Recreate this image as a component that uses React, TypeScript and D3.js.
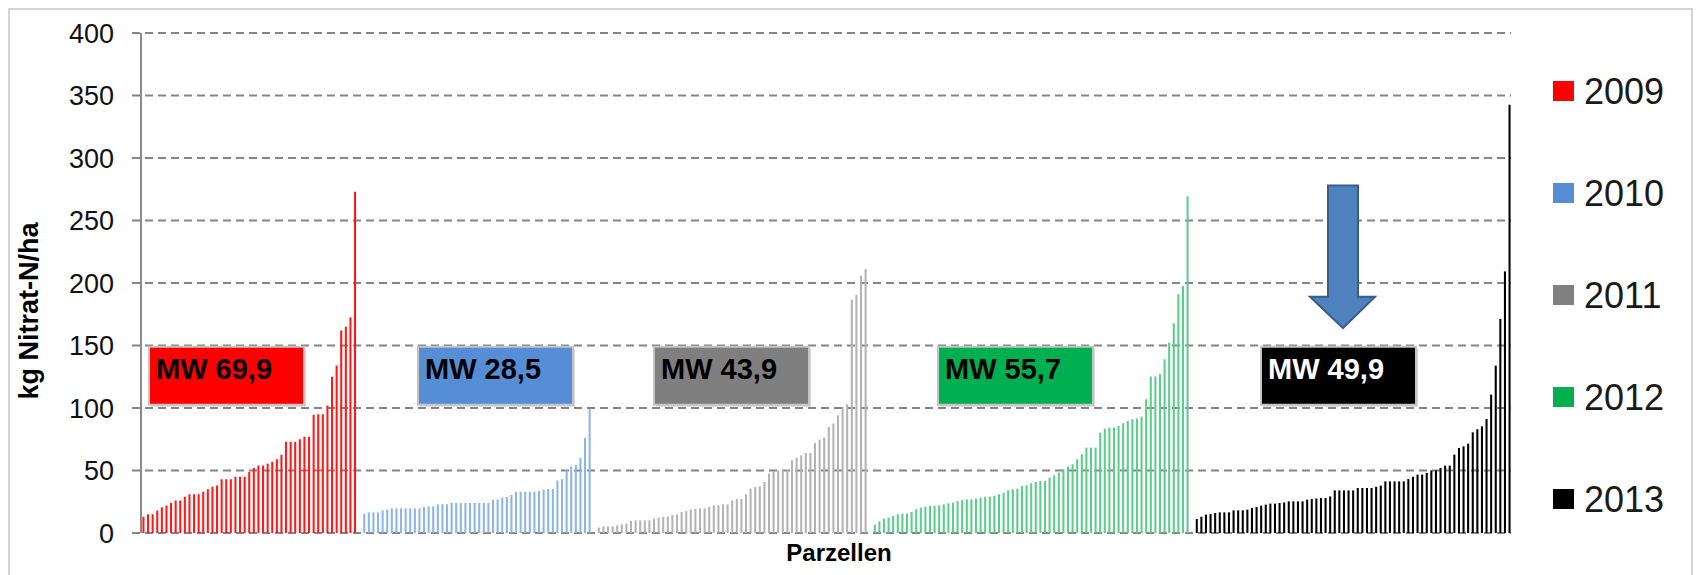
import React, { useEffect, useRef } from "react";
import * as d3 from "d3";

// Parzellen sorted by nitrate value, one list per year
const years = ["2009", "2010", "2011", "2012", "2013"];

const values2009 = [
  13, 15, 15, 18, 20.5, 22, 24, 26, 26, 29, 31, 31, 31, 33, 35, 37, 38, 43, 43,
  43, 45, 45, 45, 49, 52, 54, 54, 55.5, 57, 59, 62.6, 73, 73, 73, 75, 77, 77,
  94.6, 95, 95, 102, 125, 134, 162, 165, 172.5, 273,
];

const values2010 = [
  15.4, 16.5, 16.5, 16.5, 18, 18.6, 19.7, 19.7, 19.7, 19.7, 19.7, 19.7, 19.7,
  20.8, 21.3, 21.3, 23, 23, 23, 24, 24, 24, 24, 24, 24, 24, 24, 24, 26.7, 26.7,
  28.3, 28.8, 30.4, 33, 33, 33, 33, 33, 33.6, 34.7, 35.2, 35.2, 42, 43, 50.6,
  53.3, 54.4, 60, 76, 99.2,
];

const values2011 = [
  4.3, 5.3, 5.3, 5.3, 6.1, 6.9, 7.5, 9.6, 10.1, 10.1, 10.1, 10.1, 11.5, 12.3,
  12.8, 13.3, 14.4, 14.9, 16.8, 17.6, 18.7, 19.2, 19.7, 19.7, 20.8, 22.1, 22.1,
  22.9, 22.9, 26.1, 27.2, 27.2, 30.9, 35.5, 36.8, 37.3, 40.8, 47.5, 49.6, 50.1,
  50.7, 50.7, 58.1, 60.3, 62.1, 64, 64, 72, 74.7, 76.3, 84.8, 87.5, 94.1, 100.8,
  103, 186.6, 190.6, 205.8, 211.1,
];

const values2012 = [
  6.7, 9.3, 11.5, 12.3, 13.6, 14.9, 15.5, 15.5, 16.8, 18.9, 20.3, 21.1, 21.6,
  21.6, 22.1, 22.9, 23.7, 24.3, 25.6, 26.4, 26.9, 26.9, 27.5, 28.3, 29.1, 29.1,
  29.6, 31, 32.3, 34.2, 35, 35.5, 37.6, 38.2, 39.8, 40.8, 41.6, 41.6, 44.3, 46.2,
  48.3, 51, 53.1, 55, 59, 63, 68.3, 68.3, 68.3, 80.3, 83.5, 84.3, 84.3, 85.6,
  87.8, 89.6, 91, 91.5, 93.1, 107, 125.2, 125.2, 127, 139, 152.3, 167.8, 191,
  197.6, 269.3,
];

const values2013 = [
  11.2, 13, 14.7, 15.2, 16, 16.5, 16.5, 16.5, 18.1, 18.1, 18.1, 18.7, 20, 20.8,
  21.9, 22.7, 23.5, 23.5, 24, 24.5, 25.3, 25.3, 25.3, 25.3, 26.7, 27.2, 27.6, 28,
  28, 29.3, 34.1, 34.1, 34.1, 34.1, 34.1, 36, 36, 36, 36, 37, 37.9, 41.3, 41.3,
  41.3, 41.3, 41.3, 43.2, 45, 46.7, 46.7, 48, 50.1, 50.1, 52, 53.9, 53.9, 62.7,
  68, 69.3, 71.5, 80.5, 83, 85.3, 91.2, 110.7, 133.9, 171.2, 209.3, 342.6,
];

const meanLabels = ["MW 69,9", "MW 28,5", "MW 43,9", "MW 55,7", "MW 49,9"];
const yTickValues = [0, 50, 100, 150, 200, 250, 300, 350, 400];

// styles
const barColor = ["#ff1a1a", "#8db5e6", "#b3b3b3", "#5ccd8c", "#000000"];
const legendColor = ["#ff0000", "#558ed5", "#808080", "#00b050", "#000000"];
const boxFill = ["#ff0000", "#558ed5", "#7f7f7f", "#00b050", "#000000"];
const boxText = ["#000000", "#000000", "#000000", "#000000", "#ffffff"];
const boxLeft = [149, 418, 654, 938, 1261];

const FONT = "'Liberation Sans', Arial, sans-serif";

interface Slot {
  id: string;
  year: number; // -1 = empty slot between years
  value: number;
}

const App: React.FC = () => {
  const svgRef = useRef<SVGSVGElement>(null);

  useEffect(() => {
    document.body.style.margin = "0";
    const svg = d3.select(svgRef.current);
    svg.selectAll("*").remove();

    const series = [values2009, values2010, values2011, values2012, values2013];
    const slots: Slot[] = [];
    series.forEach((vals, i) => {
      if (i > 0) slots.push({ id: `gap${i}`, year: -1, value: 0 });
      vals.forEach((v, j) => slots.push({ id: `${years[i]}-${j}`, year: i, value: v }));
    });

    const x = d3
      .scaleBand()
      .domain(slots.map((d) => d.id))
      .range([141.5, 1511.5])
      .paddingInner(0.55)
      .paddingOuter(0.2);

    const y = d3.scaleLinear().domain([0, 400]).range([533, 33]);

    // chart area
    svg
      .append("rect")
      .attr("x", 9)
      .attr("y", 9)
      .attr("width", 1683)
      .attr("height", 590)
      .attr("fill", "#fff")
      .attr("stroke", "#c6c6c6")
      .attr("stroke-width", 1.5);

    // gridlines (the 0 line is dashed too)
    svg
      .append("g")
      .selectAll("line")
      .data(yTickValues)
      .join("line")
      .attr("x1", 132)
      .attr("x2", 1511)
      .attr("y1", (d) => y(d))
      .attr("y2", (d) => y(d))
      .attr("stroke", "#858585")
      .attr("stroke-width", 2)
      .attr("stroke-dasharray", "8,5");

    // y axis
    svg
      .append("line")
      .attr("x1", 141)
      .attr("x2", 141)
      .attr("y1", y(400))
      .attr("y2", y(0))
      .attr("stroke", "#8a8a8a")
      .attr("stroke-width", 2);

    svg
      .append("g")
      .selectAll("text")
      .data(yTickValues)
      .join("text")
      .attr("x", 114)
      .attr("y", (d) => y(d))
      .attr("dy", "0.36em")
      .attr("text-anchor", "end")
      .attr("font-family", FONT)
      .attr("font-size", 27)
      .attr("fill", "#111")
      .text((d) => d);

    // bars
    svg
      .append("g")
      .selectAll("rect")
      .data(slots.filter((d) => d.year >= 0))
      .join("rect")
      .attr("x", (d) => x(d.id)!)
      .attr("width", x.bandwidth())
      .attr("y", (d) => y(d.value))
      .attr("height", (d) => y(0) - y(d.value))
      .attr("fill", (d) => barColor[d.year]);

    // mean value boxes
    const boxes = svg
      .append("g")
      .selectAll("g")
      .data(meanLabels)
      .join("g")
      .attr("transform", (d, i) => `translate(${boxLeft[i]},${y(149)})`);

    boxes
      .append("rect")
      .attr("x", 2)
      .attr("y", 2)
      .attr("width", 155)
      .attr("height", 58)
      .attr("fill", "#d8d8d8");

    boxes
      .append("rect")
      .attr("width", 155)
      .attr("height", 58)
      .attr("fill", (d, i) => boxFill[i])
      .attr("stroke", "#c4c4c4")
      .attr("stroke-width", 2);

    boxes
      .append("text")
      .attr("x", 7)
      .attr("y", 32)
      .attr("font-family", FONT)
      .attr("font-weight", "bold")
      .attr("font-size", 29)
      .attr("fill", (d, i) => boxText[i])
      .text((d) => d);

    // arrow pointing at 2013 mean
    const arrowPts: [number, number][] = [
      [1328, y(278)],
      [1358, y(278)],
      [1358, y(189)],
      [1375, y(189)],
      [1343, y(164)],
      [1310, y(189)],
      [1328, y(189)],
    ];
    svg
      .append("polygon")
      .attr("points", arrowPts.map((p) => p.join(",")).join(" "))
      .attr("fill", "#4f81bd")
      .attr("stroke", "#385d8a")
      .attr("stroke-width", 2);

    // axis titles
    svg
      .append("text")
      .attr("transform", "translate(38,311) rotate(-90)")
      .attr("text-anchor", "middle")
      .attr("font-family", FONT)
      .attr("font-weight", "bold")
      .attr("font-size", 27)
      .attr("fill", "#000")
      .text("kg Nitrat-N/ha");

    svg
      .append("text")
      .attr("x", 839)
      .attr("y", 561)
      .attr("text-anchor", "middle")
      .attr("font-family", FONT)
      .attr("font-weight", "bold")
      .attr("font-size", 24)
      .attr("fill", "#000")
      .text("Parzellen");

    // legend
    const legend = svg
      .append("g")
      .selectAll("g")
      .data(years)
      .join("g")
      .attr("transform", (d, i) => `translate(1553,${91 + i * 102})`);

    legend
      .append("rect")
      .attr("y", -10)
      .attr("width", 21)
      .attr("height", 20)
      .attr("fill", (d, i) => legendColor[i]);

    legend
      .append("text")
      .attr("x", 31)
      .attr("dy", "0.36em")
      .attr("font-family", FONT)
      .attr("font-size", 36)
      .attr("fill", "#1a1a1a")
      .text((d) => d);
  }, []);

  return (
    <div>
      <svg ref={svgRef} width={1698} height={575} style={{ display: "block" }}></svg>
    </div>
  );
};

export default App;
